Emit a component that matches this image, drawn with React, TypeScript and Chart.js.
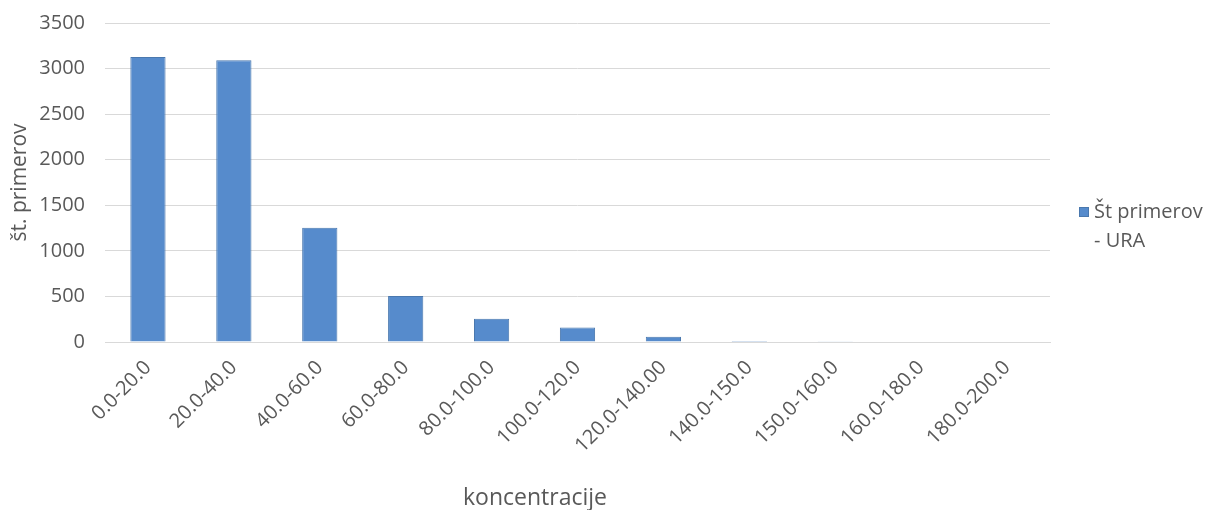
import React, { useEffect, useRef } from "react";
import { Chart, registerables } from "chart.js";

Chart.register(...registerables);

const categories = [
  "0.0-20.0",
  "20.0-40.0",
  "40.0-60.0",
  "60.0-80.0",
  "80.0-100.0",
  "100.0-120.0",
  "120.0-140.00",
  "140.0-150.0",
  "150.0-160.0",
  "160.0-180.0",
  "180.0-200.0",
];
const counts = [3128, 3092, 1253, 505, 256, 160, 58, 10, 2, 0, 0];
const seriesLabel = ["Št primerov", "- URA"];
const xTitle = "koncentracije";
const yTitle = "št. primerov";

const FONT = "'Open Sans', 'DejaVu Sans', sans-serif";
const FS = 20;
const TEXT = "#595959";
const GRID = "#d9d9d9";
const BAR = "#568BCC";
const BAR_BORDER = "#4A78AE";

const overlay = {
  id: "overlay",
  afterDraw(chart: any) {
    const ctx = chart.ctx;
    ctx.save();
    // legend
    ctx.fillStyle = BAR;
    ctx.fillRect(1079, 207, 9, 9);
    ctx.strokeStyle = BAR_BORDER;
    ctx.lineWidth = 1;
    ctx.strokeRect(1079.5, 207.5, 9, 9);
    ctx.fillStyle = TEXT;
    ctx.font = `${FS}px ${FONT}`;
    ctx.textAlign = "left";
    ctx.textBaseline = "middle";
    ctx.fillText(seriesLabel[0], 1094, 212);
    ctx.fillText(seriesLabel[1], 1094, 241);
    // x title
    ctx.font = `23px ${FONT}`;
    ctx.textAlign = "center";
    ctx.textBaseline = "alphabetic";
    ctx.fillText(xTitle, 535, 505);
    ctx.restore();
  },
};

export default function App() {
  const ref = useRef<HTMLCanvasElement | null>(null);
  useEffect(() => {
    if (!ref.current) return;
    const chart = new Chart(ref.current, {
      type: "bar",
      data: {
        labels: categories,
        datasets: [
          {
            label: seriesLabel.join(" "),
            data: counts,
            backgroundColor: BAR,
            borderColor: BAR_BORDER,
            borderWidth: 1,
            barPercentage: 0.41,
            categoryPercentage: 1,
          },
        ],
      },
      options: {
        animation: false,
        responsive: true,
        maintainAspectRatio: false,
        devicePixelRatio: 1,
        layout: { padding: { left: 0, top: 23, right: 156, bottom: 0 } },
        plugins: {
          legend: { display: false },
          tooltip: { enabled: false },
        },
        scales: {
          x: {
            grid: { display: false, drawTicks: false },
            border: { display: true, color: GRID },
            ticks: {
              color: TEXT,
              font: { family: FONT, size: FS },
              minRotation: 45,
              maxRotation: 45,
              padding: 14,
              autoSkip: false,
            },
            afterFit: (s: any) => {
              s.height = 168;
            },
          },
          y: {
            min: 0,
            max: 3500,
            grid: {
              color: GRID,
              drawTicks: true,
              tickLength: 15,
              tickColor: "rgba(0,0,0,0)",
            },
            border: { display: false },
            ticks: {
              stepSize: 500,
              color: TEXT,
              font: { family: FONT, size: FS },
              padding: 5,
              callback: (v: any) => String(v),
            },
            title: {
              display: true,
              text: yTitle,
              color: TEXT,
              font: { family: FONT, size: 21 },
              padding: { top: 7, bottom: 0 },
            },
            afterFit: (s: any) => {
              s.width = 105;
            },
          },
        },
      },
      plugins: [overlay],
    });
    return () => chart.destroy();
  }, []);
  return (
    <div style={{ position: "fixed", left: 0, top: 0, width: 1206, height: 510, background: "#fff" }}>
      <canvas ref={ref} />
    </div>
  );
}
